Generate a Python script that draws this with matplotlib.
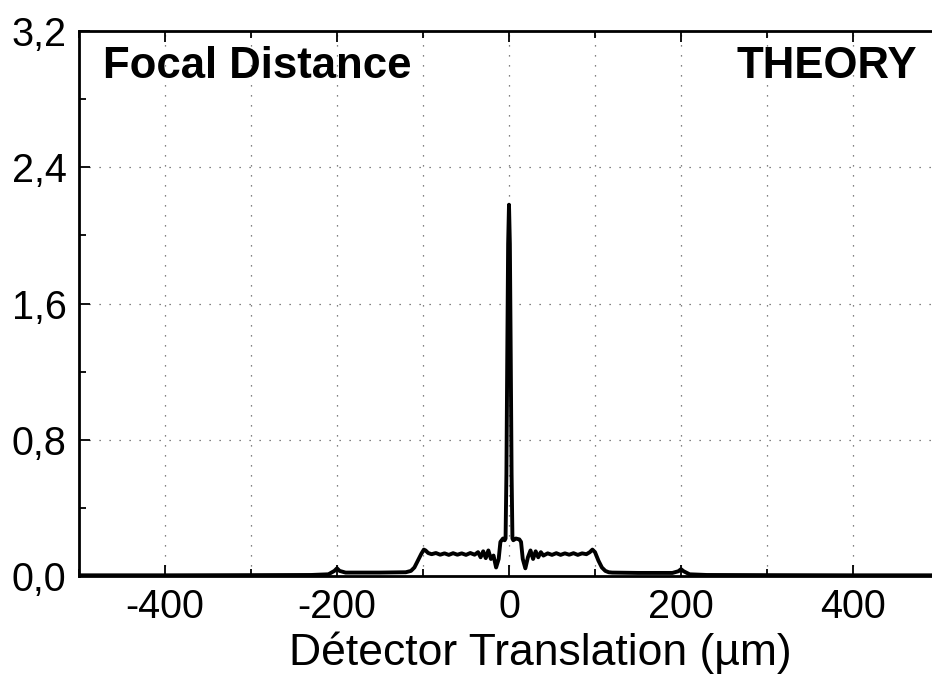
import numpy as np
import matplotlib.pyplot as plt
from matplotlib.ticker import MultipleLocator, FixedLocator, FixedFormatter

plt.rcParams['font.family'] = ['Liberation Sans', 'DejaVu Sans']

# =========================
# Data
# =========================
x_um = [-500, -400, -300, -230, -210, -203, -200, -197, -190, -150, -120,
        -114, -110, -106, -102, -99, -97, -94, -90,
        -85, -80, -75, -70, -65, -60, -55, -50, -45, -40,
        -36, -33, -30, -27, -24, -21, -18, -15, -12, -10, -7, -5, -4,
        -3, -2, -1, 0, 1, 2, 3,
        4, 5, 8, 12, 14, 16, 19, 22, 25, 28, 31, 34, 37, 40,
        45, 50, 55, 60, 65, 70, 75, 80, 85, 90,
        94, 97, 100, 104, 108, 112, 116, 120, 150, 190,
        197, 200, 203, 210, 230, 300, 400, 500]

intensity = [0.004, 0.004, 0.005, 0.006, 0.01, 0.03, 0.045, 0.03, 0.02, 0.02, 0.022,
             0.03, 0.05, 0.09, 0.13, 0.155, 0.15, 0.135, 0.128,
             0.135, 0.125, 0.133, 0.124, 0.134, 0.125, 0.133, 0.124, 0.135, 0.125,
             0.14, 0.11, 0.145, 0.105, 0.15, 0.10, 0.12, 0.05, 0.10, 0.20, 0.22, 0.21, 0.22,
             0.6, 1.3, 1.95, 2.18, 1.95, 1.3, 0.6,
             0.22, 0.21, 0.22, 0.215, 0.20, 0.10, 0.045, 0.11, 0.15, 0.10, 0.145, 0.11, 0.14, 0.12,
             0.133, 0.124, 0.134, 0.124, 0.133, 0.125, 0.134, 0.124, 0.133, 0.128,
             0.14, 0.155, 0.14, 0.09, 0.05, 0.03, 0.022, 0.02, 0.018, 0.018,
             0.028, 0.04, 0.028, 0.01, 0.006, 0.005, 0.004, 0.004]

xticks = [-400, -200, 0, 200, 400]
xtick_labels = ['-400', '-200', '0', '200', '400']
yticks = [0.0, 0.8, 1.6, 2.4, 3.2]
ytick_labels = ['0,0', '0,8', '1,6', '2,4', '3,2']

# =========================
# Figure
# =========================
fig = plt.figure(figsize=(9.32, 6.93), dpi=100)
ax = fig.add_axes([79 / 932, 1 - 576 / 693, 860 / 932, 545 / 693])

ax.plot(x_um, intensity, color='black', lw=2.8, solid_joinstyle='round')

ax.set_xlim(-500, 500)
ax.set_ylim(0, 3.2)

ax.xaxis.set_major_locator(FixedLocator(xticks))
ax.xaxis.set_major_formatter(FixedFormatter(xtick_labels))
ax.xaxis.set_minor_locator(MultipleLocator(100))
ax.yaxis.set_major_locator(FixedLocator(yticks))
ax.yaxis.set_major_formatter(FixedFormatter(ytick_labels))
ax.yaxis.set_minor_locator(MultipleLocator(0.4))

ax.tick_params(which='both', direction='in', top=True, right=False, width=1.3)
ax.tick_params(which='major', length=8, labelsize=28.5, pad=9)
ax.tick_params(which='minor', length=5)

# dotted grid every 100 um and every 0.8
for gx in range(-400, 500, 100):
    ax.axvline(gx, color='0.35', lw=0.9, ls=(0, (1, 7)), zorder=0)
for gy in [0.8, 1.6, 2.4]:
    ax.axhline(gy, color='0.35', lw=0.9, ls=(0, (1, 7)), zorder=0)

for side in ['left', 'bottom', 'top']:
    ax.spines[side].set_linewidth(2)
ax.spines['right'].set_visible(False)

ax.set_xlabel('Détector Translation (µm)', fontsize=32)
ax.xaxis.set_label_coords(0.536, -0.102)

fig.text(103 / 932, 1 - 78 / 693, 'Focal Distance', fontsize=31.5,
         fontweight='bold', va='baseline', ha='left')
fig.text(917 / 932, 1 - 78 / 693, 'THEORY', fontsize=31.5,
         fontweight='bold', va='baseline', ha='right')

plt.savefig('out.png', dpi=100)
